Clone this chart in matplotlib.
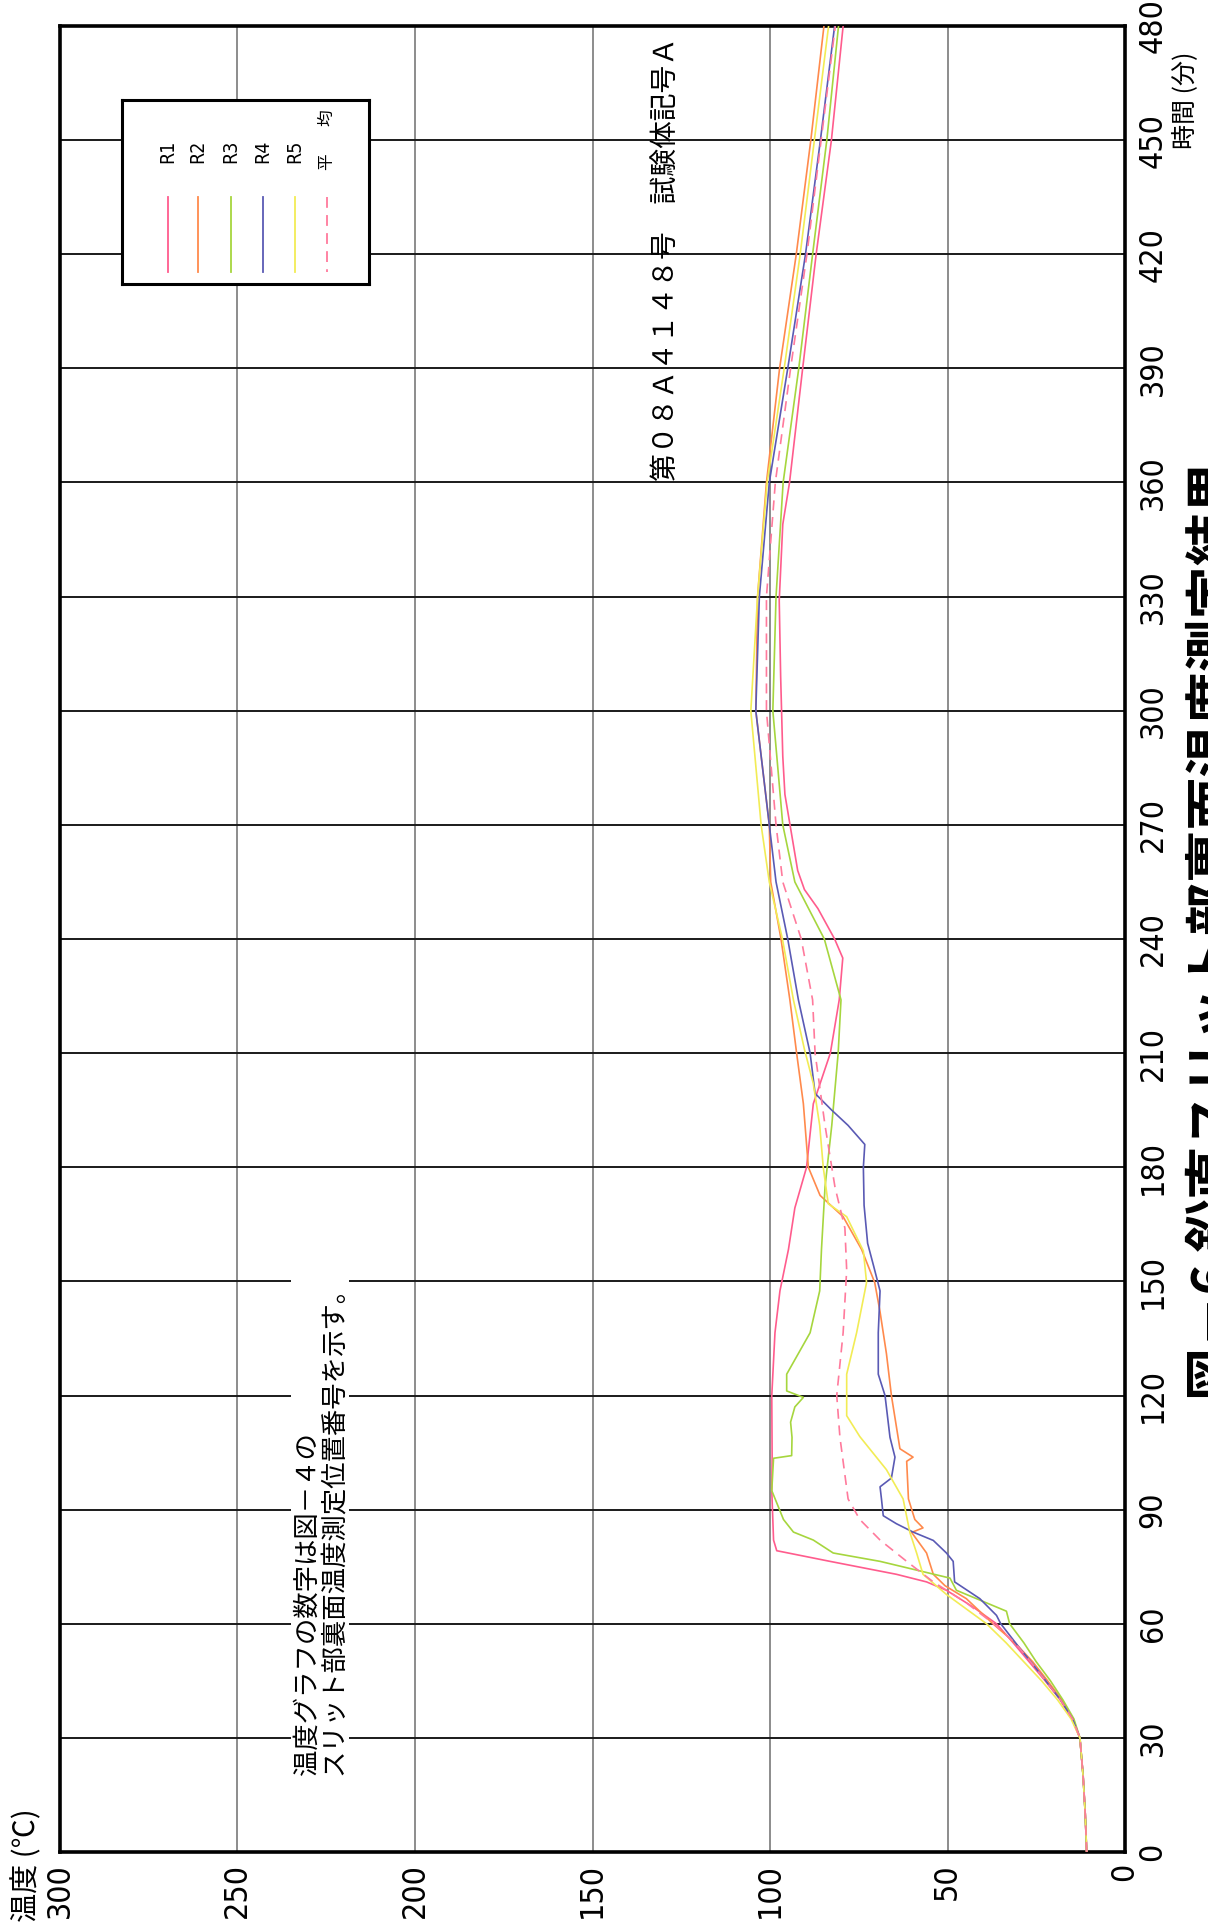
import matplotlib
matplotlib.use('Agg')
import matplotlib.pyplot as plt
from matplotlib import font_manager

# Measured back-face temperatures at the vertical slit (read off the scan)
# time in minutes, temperature in degrees C
r1_time = [0, 10, 20, 30, 35, 40, 45, 50, 55, 60, 64.4, 68.8, 71, 73, 76.4, 79.2, 82, 95, 104, 120,
           136.5, 147.5, 158.4, 169.3, 180, 196.7, 210, 224, 235, 240, 248, 253, 258, 268, 278, 288,
           309, 329, 349, 360, 390, 420, 450, 480]
r1_temp = [10.8, 11.2, 11.8, 12.7, 15.0, 18.2, 22.5, 27.0, 31.5, 36.2, 42.8, 50.3, 55.9, 64.4, 83.1,
           98.1, 99.0, 99.5, 99.4, 99.5, 98.6, 97.2, 94.8, 93.0, 89.7, 87.8, 83.0, 80.5, 79.5, 81.8,
           86.5, 90.3, 92.2, 94.0, 95.8, 96.4, 97.0, 97.4, 96.4, 94.5, 90.8, 87.0, 82.7, 79.4]

r2_time = [0, 10, 20, 30, 35, 40, 45, 50, 55, 60, 66.6, 70, 73, 78.6, 84, 85.2, 87.4, 92.8, 102.7,
           103.8, 106, 120, 131, 142, 149.7, 158.4, 167, 172.6, 180, 196.7, 210, 224, 240, 255, 270,
           300, 330, 360, 390, 420, 450, 480]
r2_temp = [10.8, 11.2, 11.8, 12.7, 14.6, 17.8, 21.8, 26.0, 31.0, 37.2, 44.7, 50.7, 54.0, 55.9, 60.1,
           56.9, 59.2, 61.0, 61.5, 59.7, 63.4, 65.8, 67.2, 69.0, 70.5, 74.2, 79.4, 85.9, 89.2, 90.6,
           92.5, 94.4, 96.9, 99.8, 100.2, 104.0, 103.5, 101.0, 97.3, 92.6, 88.5, 84.8]

r3_time = [0, 10, 20, 30, 35, 40, 45, 50, 55, 60, 63.3, 68.8, 72, 76.4, 78.6, 82, 84.1, 87.4, 95,
           103.5, 104.2, 109, 113, 117, 119.5, 121.2, 125.6, 136.5, 147.5, 158.4, 174.8, 191, 210,
           224, 240, 255, 270, 300, 330, 360, 390, 420, 450, 480]
r3_temp = [10.8, 11.2, 11.8, 12.7, 14.4, 17.5, 21.0, 25.0, 28.5, 32.5, 33.4, 47.5, 49.3, 69.0, 82.2,
           87.8, 93.4, 96.2, 99.5, 99.0, 93.9, 93.8, 94.2, 93.0, 90.6, 95.3, 95.3, 88.7, 86.0, 85.5,
           84.5, 82.6, 80.8, 80.0, 84.7, 93.0, 96.4, 99.2, 98.3, 96.3, 91.9, 88.0, 84.0, 80.7]

r4_time = [0, 10, 20, 30, 35, 40, 45, 50, 53.5, 60, 62.2, 66.6, 71, 76.4, 78.6, 81.9, 84.1, 86.3,
           88.4, 92.8, 96, 98.3, 103.8, 109, 120, 125.6, 136.5, 147.5, 154, 160, 170, 180, 186, 191,
           195, 199.4, 210, 224, 240, 255, 270, 300, 330, 360, 390, 420, 450, 480]
r4_temp = [10.8, 11.2, 11.8, 12.7, 14.8, 18.2, 22.3, 26.5, 29.6, 35.0, 36.2, 40.9, 48.0, 48.4, 50.3,
           54.0, 59.7, 64.4, 68.1, 68.6, 69.0, 65.8, 64.8, 66.2, 67.6, 69.5, 69.5, 69.0, 70.8, 72.5,
           73.5, 73.7, 73.3, 78.0, 82.6, 87.3, 88.7, 92.0, 95.0, 98.3, 100.2, 104.0, 103.0, 100.2,
           95.0, 90.0, 85.8, 81.8]

r5_time = [0, 10, 20, 30, 35, 40, 45, 50, 55, 60, 67.7, 73, 78.6, 84, 92.8, 100.5, 109.2, 114.7,
           125.6, 136.5, 149.7, 158, 167, 170.4, 180, 191, 202, 211, 224, 240, 255, 270, 300, 330,
           360, 390, 420, 450, 480]
r5_temp = [10.8, 11.2, 11.8, 12.7, 15.2, 19.0, 23.5, 28.5, 33.5, 39.0, 50.3, 56.9, 58.7, 60.6, 62.5,
           67.2, 74.7, 78.4, 78.4, 75.6, 72.8, 73.7, 78.4, 83.6, 85.0, 86.0, 87.8, 90.3, 93.4, 96.5,
           100.2, 102.5, 105.4, 103.5, 100.8, 96.0, 91.5, 87.5, 83.5]

avg_time = [0, 10, 20, 30, 35, 40, 45, 50, 55, 60, 65.5, 71, 76.4, 82, 87.4, 92.8, 109, 120, 136.5,
            153, 164, 174.8, 191, 210, 224, 240, 255, 270, 300, 330, 360, 390, 420, 450, 480]
avg_temp = [10.8, 11.2, 11.8, 12.7, 14.8, 18.2, 22.4, 26.6, 31.0, 37.0, 44.7, 54.0, 61.5, 69.0, 74.7,
            78.0, 80.3, 81.2, 79.4, 78.4, 78.9, 81.7, 84.5, 87.3, 88.0, 91.2, 96.4, 98.3, 101.0,
            101.0, 98.5, 94.2, 89.6, 85.6, 81.6]

series_names = ['R1', 'R2', 'R3', 'R4', 'R5', '平均']
series_colors = ['#ff5c8d', '#ff8a4c', '#a6d63e', '#5a5ab4', '#f2ec55', '#ff7a9c']
series_styles = ['-', '-', '-', '-', '-', (0, (6, 4))]

temp_ticks = [0, 50, 100, 150, 200, 250, 300]
time_ticks = list(range(0, 481, 30))

# fonts: narrow sans for numbers if we have it, CJK for the japanese text
installed = {f.name for f in font_manager.fontManager.ttflist}
if 'Liberation Sans Narrow' in installed:
    num_font = dict(family='Liberation Sans Narrow')
else:
    num_font = dict(family='DejaVu Sans', stretch='condensed')
jp = ['Noto Sans CJK JP', 'DejaVu Sans']

W, H = 1208, 1932
fig = plt.figure(figsize=(W / 100, H / 100), dpi=100)
fig.patch.set_facecolor('white')

# main frame: temperature runs right->left, time runs bottom->top (page is turned)
x0, x1, y0, y1 = 60, 1125, 26, 1852
ax = fig.add_axes([x0 / W, 1 - y1 / H, (x1 - x0) / W, (y1 - y0) / H])
ax.set_xlim(300, 0)
ax.set_ylim(0, 480)

for tt in temp_ticks[1:-1]:
    ax.axvline(tt, color='#6e6e6e', lw=1.1, zorder=1)
for tm in time_ticks[1:-1]:
    ax.axhline(tm, color='#1a1a1a', lw=1.4, zorder=1)

for tm_, tp_, c, ls in zip([r1_time, r2_time, r3_time, r4_time, r5_time, avg_time],
                           [r1_temp, r2_temp, r3_temp, r4_temp, r5_temp, avg_temp],
                           series_colors, series_styles):
    ax.plot(tp_, tm_, color=c, lw=1.2, linestyle=ls, zorder=3)

for s in ax.spines.values():
    s.set_linewidth(2.6)
    s.set_color('black')

ax.set_xticks(temp_ticks)
ax.set_xticklabels([str(v) for v in temp_ticks], rotation=90, fontsize=23, **num_font)
ax.yaxis.tick_right()
ax.set_yticks(time_ticks)
ax.set_yticklabels([str(v) for v in time_ticks], rotation=90, va='center', fontsize=23, **num_font)
ax.tick_params(axis='x', length=0, pad=8)
ax.tick_params(axis='y', length=0, pad=9)

# legend box drawn by hand, entries stand vertically
lx0, lx1, ly0, ly1 = 122, 369, 100, 284
lg = fig.add_axes([lx0 / W, 1 - ly1 / H, (lx1 - lx0) / W, (ly1 - ly0) / H])
lg.set_xlim(lx0, lx1)
lg.set_ylim(ly1, ly0)
lg.set_xticks([])
lg.set_yticks([])
for s in lg.spines.values():
    s.set_linewidth(2.2)
entry_x = [168, 198, 231, 263, 295, 327]
for ex, name, c, ls in zip(entry_x, series_names, series_colors, series_styles):
    lg.plot([ex, ex], [197, 272], color=c, lw=1.3, linestyle=ls)
    if name == '平均':
        lg.text(ex, 162, '平', rotation=90, ha='center', va='center', fontsize=12, family=jp)
        lg.text(ex, 118, '均', rotation=90, ha='center', va='center', fontsize=12, family=jp)
    else:
        lg.text(ex, 151, name, rotation=90, ha='center', va='center', fontsize=14, **num_font)

# texts, all turned with the page
fig.text(666 / W, 1 - 481 / H, '第０８Ａ４１４８号　試験体記号Ａ', rotation=90,
         ha='center', va='bottom', fontsize=20, family=jp)
fig.text(320 / W, 1 - 1775 / H, '温度グラフの数字は図－４の\nスリット部裏面温度測定位置番号を示す。',
         rotation=90, ha='center', va='bottom', multialignment='left', linespacing=0.95,
         fontsize=19, family=jp,
         bbox=dict(facecolor='white', edgecolor='none', pad=2))
fig.text(27 / W, 1 - 1865 / H, '温度 (℃)', rotation=90, ha='center', va='center',
         fontsize=21, family=jp)
fig.text(1185 / W, 1 - 100 / H, '時間 (分)', rotation=90, ha='center', va='center',
         fontsize=18, family=jp)
fig.text(1215 / W, 1 - 1400 / H, '図－6 鉛直スリット部裏面温度測定結果', rotation=90,
         rotation_mode='anchor', ha='left', va='center', fontsize=38, fontweight='bold', family=jp)

fig.savefig('out.png', dpi=100, facecolor='white')
print('saved out.png')
